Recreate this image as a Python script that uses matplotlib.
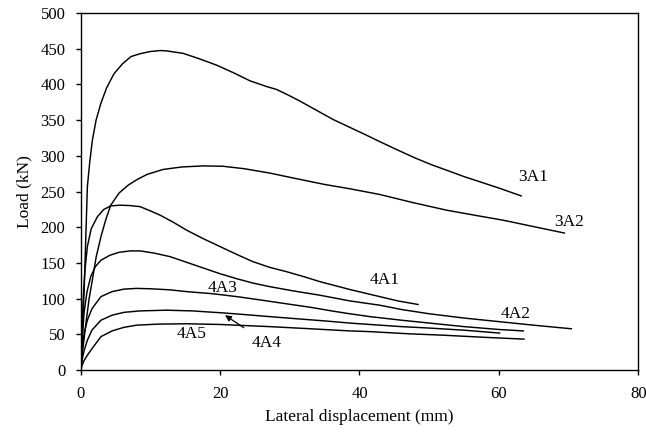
import matplotlib.pyplot as plt

plt.rcParams['font.family'] = ['Liberation Serif', 'DejaVu Serif']

# load-displacement curves
x_3a1 = [0, 0.5, 0.95, 1.3, 1.67, 2.2, 2.87, 3.7, 4.77, 6.0, 7.2, 8.5, 9.9, 11.4, 12.3,
         14.7, 17.0, 19.5, 22.0, 24.3, 26.7, 28.1, 29.8, 31.4, 33.8, 36.2, 38.6, 41.0,
         42.9, 45.3, 48.0, 50.5, 52.5, 55.0, 57.2, 60.0, 63.2]
y_3a1 = [0, 115, 257, 292, 322, 350, 373, 395, 415, 429, 439, 443, 446, 447.5, 447,
         443.5, 436, 427, 416, 405, 397, 393, 385, 377, 364, 351, 340, 329,
         320, 309, 297, 287, 280, 271, 264, 255, 244]

x_3a2 = [0, 0.3, 0.8, 1.2, 1.66, 2.2, 2.9, 3.6, 4.3, 5.5, 6.8, 8.1, 9.5, 11.8, 14.5,
         17.6, 20.4, 23.5, 27.1, 31, 35, 38.6, 42.9, 47.5, 52.5, 56.5, 60.6, 65, 69.4]
y_3a2 = [0, 30, 70, 100, 126, 158, 187, 211, 231, 248, 259, 267, 274, 281, 284.5,
         286, 285.5, 282, 276, 268, 260, 254, 246, 235, 224, 217, 210, 201, 192]

x_4a1 = [0, 0.15, 0.37, 0.6, 0.95, 1.5, 2.4, 3.3, 4.3, 5.6, 7, 8.5, 10, 11.4, 13.3,
         15.2, 17.6, 20, 22.4, 24.7, 27.1, 29.5, 32, 34.3, 38.6, 42.9, 45.5, 48.4]
y_4a1 = [0, 50, 103, 140, 173, 198, 215, 225, 230, 231, 230.5, 229, 223, 217, 207,
         196, 184, 173, 162, 152, 144, 138, 131, 124, 113, 103, 97, 92]

x_4a2 = [0, 0.2, 0.47, 0.9, 1.43, 2.1, 2.9, 4.2, 5.5, 7.1, 8.5, 10.5, 12.8, 15.2, 17.6,
         20, 22.4, 24.7, 27.1, 30.5, 34.3, 38.6, 42.9, 46, 50, 55, 60, 65, 70.4]
y_4a2 = [0, 40, 80, 110, 131, 145, 154, 161, 165, 167, 167, 164, 159, 151, 143,
         135, 128, 122, 117, 111, 105, 97, 91, 85, 79, 73, 68, 63, 58]

x_4a3 = [0, 0.2, 0.5, 0.95, 1.6, 2.9, 4.5, 6.2, 8, 10, 12.8, 15.2, 19, 22.4, 26,
         29.5, 33, 36, 38.6, 41.5, 46, 50, 55, 60, 63.5]
y_4a3 = [0, 30, 52, 70, 86, 103, 110, 113.5, 114.5, 114, 112.5, 110, 107, 103, 98,
         93, 88, 83, 79, 75, 70, 66, 61, 57, 55]

x_4a4 = [0, 0.2, 0.5, 0.95, 1.6, 2.9, 4.5, 6.2, 8.5, 12.3, 16, 20.7, 24, 27.1, 31,
         35, 38.6, 41.5, 46, 50, 55, 60.1]
y_4a4 = [0, 15, 28, 42, 56, 70, 77, 81, 83, 84, 83, 80, 77.5, 75, 72,
         69, 66, 64, 61, 59, 56, 52]

x_4a5 = [0, 0.2, 0.5, 0.95, 1.6, 2.9, 4.5, 6.2, 8, 11, 15.2, 20, 27.1, 33, 38.6,
         41.5, 47, 52, 58, 63.6]
y_4a5 = [0, 7, 14, 21, 30, 47, 55, 60, 63, 64.5, 65, 64, 61, 58, 55,
         54, 51, 49, 46, 43.5]

curves = [(x_3a1, y_3a1), (x_3a2, y_3a2), (x_4a1, y_4a1), (x_4a2, y_4a2),
          (x_4a3, y_4a3), (x_4a4, y_4a4), (x_4a5, y_4a5)]

# label text and where it sits (data coords)
labels = ['3A1', '3A2', '4A1', '4A2', '4A3', '4A5']
label_x = [64.9, 70.1, 43.6, 62.4, 20.3, 15.9]
label_y = [270, 207, 126, 79, 115, 50]

fig = plt.figure(figsize=(6.46, 4.34), dpi=100)
ax = fig.add_axes([0.125, 0.147, 0.863, 0.823])

for xs, ys in curves:
    ax.plot(xs, ys, color='black', lw=1.05, solid_joinstyle='round')

for t, lx, ly in zip(labels, label_x, label_y):
    ax.text(lx, ly, t, fontsize=12.5, ha='center', va='center')

ax.annotate('4A4', xy=(20.7, 77), xytext=(26.7, 38), fontsize=12.5,
            ha='center', va='center',
            arrowprops=dict(arrowstyle='-|>', color='black', lw=0.9,
                            shrinkA=6, shrinkB=0, mutation_scale=9))

ax.set_xlim(0, 80)
ax.set_ylim(0, 500)
ax.set_xticks(range(0, 81, 20))
ax.set_yticks(range(0, 501, 50))
ax.tick_params(direction='out', length=3.6, width=1, pad=7.5, labelsize=12,
               colors='black')
for s in ax.spines.values():
    s.set_linewidth(1)
    s.set_color('black')

ax.set_xlabel('Lateral displacement (mm)', fontsize=12.5, labelpad=5)
ax.set_ylabel('Load (kN)', fontsize=12.5, labelpad=6)

fig.savefig('out.png', dpi=100)
